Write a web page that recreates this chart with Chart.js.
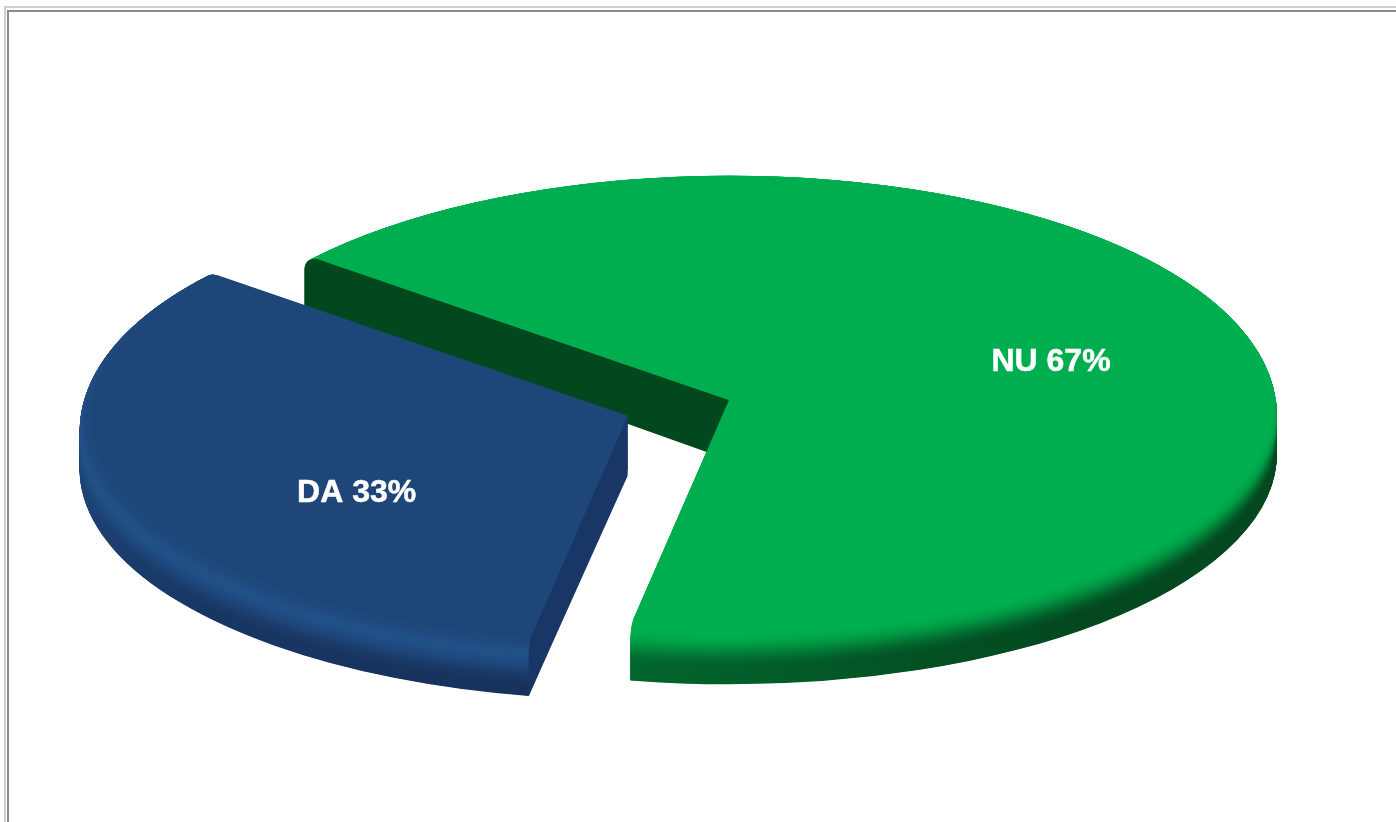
<!DOCTYPE html>
<html>
<head>
<meta charset="utf-8">
<script src="https://cdn.jsdelivr.net/npm/chart.js@4"></script>
<style>
html,body{margin:0;padding:0;background:#fff;overflow:hidden;width:1396px;height:822px}
.f{position:absolute}
canvas{position:absolute;left:0;top:0}
</style>
</head>
<body>
<div class="f" style="left:4px;top:6px;width:1392px;height:2px;background:#cfcfcf"></div>
<div class="f" style="left:4px;top:6px;width:2px;height:816px;background:#cfcfcf"></div>
<div class="f" style="left:7px;top:10px;width:1389px;height:2px;background:#8a8a8a"></div>
<div class="f" style="left:7px;top:10px;width:2px;height:812px;background:#8a8a8a"></div>
<canvas id="c" width="1396" height="822"></canvas>
<script>
const categories = ["NU", "DA"];
const seriesValues = [67, 33];
const explode = [0, 108];

const faceColors = ["#00ad4f", "#1e4678"];
const highlightColors = ["#00b04f", "#215088"];
const darkColors = ["#03481f", "#16305a"];
const wallColors = ["#02481f", "#193766"];
const labelShift = [[322, -38], [-271, 78]];
const peakDepth = [3, 12];
const darkDepth = [38, 46];

const yScale = 0.42, faceR = 530, rimR = 548, rimDepth = 54, wallDepth = 60, bevel = 16;
const darkByAngle = [
  [[-70,0],[-25,.5],[0,1],[50,1],[72,.9],[98,.72],[120,.6],[230,.5]],
  [[90,1],[140,.8],[180,.35],[210,.1],[240,0]]
];

const hex = h => [1,3,5].map(i => parseInt(h.substr(i,2),16));
const mix = (a,b,t) => a.map((v,i) => v+(b[i]-v)*t);
const css = c => `rgb(${c.map(v=>Math.round(v)).join(",")})`;

function layerFill(ctx, arc, i, d) {
  const g = ctx.createConicGradient(0, arc.x, arc.y);
  const up = Math.min(d/peakDepth[i],1);
  const down = Math.max(0,Math.min((d-peakDepth[i])/(darkDepth[i]-peakDepth[i]),1));
  const smooth = down*down*(3-2*down);
  const base = mix(hex(faceColors[i]), hex(highlightColors[i]), up);
  const tbl = darkByAngle[i];
  for (let a=-180; a<=180; a+=5) {
    let x=a;
    if (i===1 && x<0) x+=360;
    let f=tbl[0][1];
    for (let k=0;k<tbl.length;k++){
      if (x>=tbl[k][0]) {
        const n=tbl[k+1];
        f = n && x<n[0] ? tbl[k][1]+(n[1]-tbl[k][1])*(x-tbl[k][0])/(n[0]-tbl[k][0]) : tbl[k][1];
      }
    }
    const pos=((a+360)%360)/360;
    g.addColorStop(pos, css(mix(base, hex(darkColors[i]), smooth*f)));
  }
  return g;
}

const pie3d = {
  id: "pie3d",
  beforeDatasetDraw(chart) {
    const ctx = chart.ctx;
    const arcs = chart.getDatasetMeta(0).data;
    arcs.forEach((arc, i) => {
      const mid = (arc.startAngle+arc.endAngle)/2;
      const ex = explode[i]*Math.cos(mid), ey = yScale*explode[i]*Math.sin(mid);
      const R0 = arc.outerRadius, base = arc.options;
      const put = d => {
        ctx.save();
        ctx.translate(ex, ey+d+arc.y);
        ctx.scale(1,yScale);
        ctx.translate(0,-arc.y);
        arc.draw(ctx);
        ctx.restore();
      };
      for (let d=rimDepth; d>=0.5; d-=0.5) {
        const u=Math.min(d/bevel,1);
        arc.outerRadius = R0+(rimR-R0)*Math.sqrt(1-(1-u)*(1-u));
        arc.options = Object.assign({}, base, {backgroundColor: layerFill(ctx,arc,i,d), borderWidth:0});
        put(d);
      }
      arc.outerRadius=R0; arc.options=base;
      const a=arc.startAngle, c=Math.cos(a), s=Math.sin(a);
      const P=(r,d)=>[arc.x+ex+r*c, arc.y+ey+yScale*r*s+d];
      ctx.save();
      ctx.fillStyle=wallColors[i];
      ctx.beginPath();
      ctx.moveTo(...P(0,0));
      ctx.lineTo(...P(R0,0));
      ctx.quadraticCurveTo(...P(rimR,3),...P(rimR,bevel));
      ctx.lineTo(...P(rimR,rimDepth));
      ctx.lineTo(...P(0,wallDepth));
      ctx.closePath();
      ctx.fill();
      ctx.restore();
      put(0);
    });
    return false;
  },
  afterDatasetsDraw(chart) {
    const ctx = chart.ctx;
    const arcs = chart.getDatasetMeta(0).data;
    ctx.save();
    ctx.font = "bold 32px 'Liberation Sans', Arial, sans-serif";
    ctx.fillStyle = "#fff";
    ctx.strokeStyle = "#fff";
    ctx.lineWidth = 0.5;
    ctx.textAlign = "center";
    ctx.textBaseline = "middle";
    arcs.forEach((arc,i)=>{
      const mid=(arc.startAngle+arc.endAngle)/2;
      const ax=arc.x+explode[i]*Math.cos(mid), ay=arc.y+yScale*explode[i]*Math.sin(mid);
      const t=categories[i]+" "+seriesValues[i]+"%";
      ctx.fillText(t, ax+labelShift[i][0], ay+labelShift[i][1]);
      ctx.strokeText(t, ax+labelShift[i][0], ay+labelShift[i][1]);
    });
    ctx.restore();
  }
};

new Chart(document.getElementById("c"), {
  type: "pie",
  data: { labels: categories, datasets: [{ data: seriesValues, backgroundColor: faceColors, borderWidth: 0, clip: false }] },
  options: {
    responsive: false,
    animation: false,
    rotation: 309.2,
    radius: faceR,
    layout: { padding: { left: 62, right: 0, top: 0, bottom: 22 } },
    events: [],
    plugins: { legend: { display: false }, tooltip: { enabled: false } }
  },
  plugins: [pie3d]
});
</script>
</body>
</html>
